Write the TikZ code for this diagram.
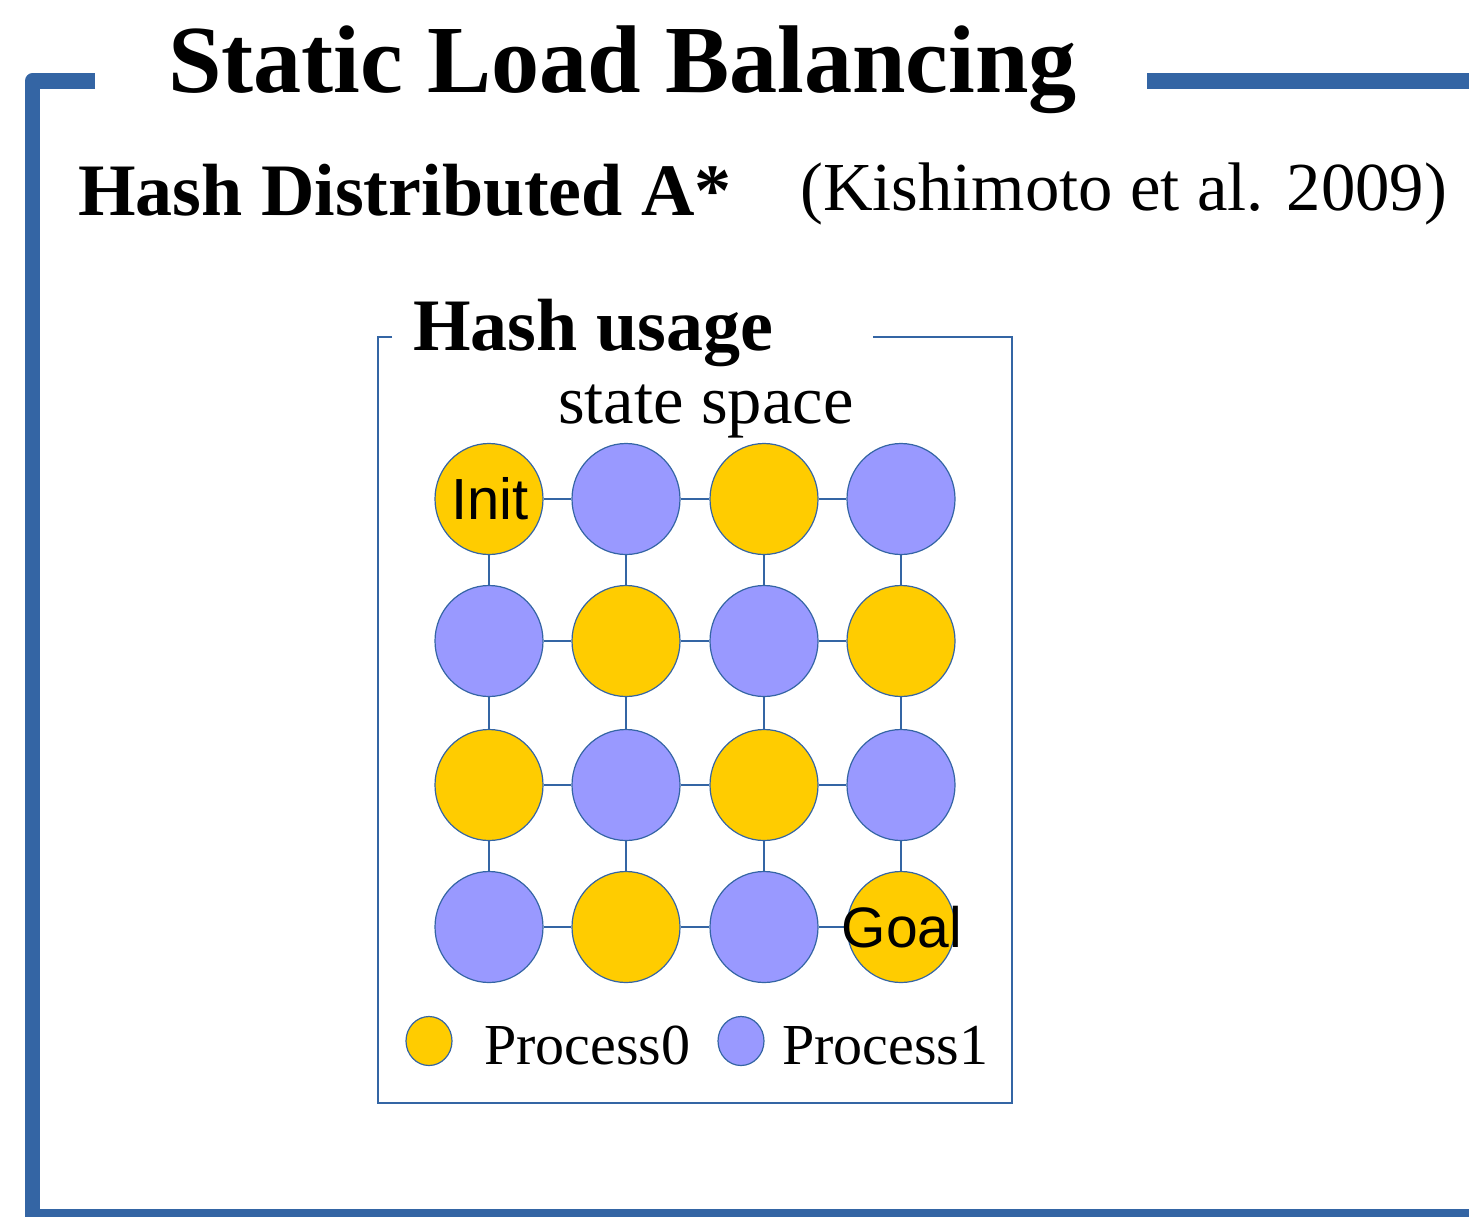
\documentclass[tikz,border=0pt]{standalone}
\usepackage{fontspec}
\setmainfont{Liberation Serif}
\newfontfamily\labelsans{Liberation Sans}
\usetikzlibrary{shapes.geometric}
\definecolor{framebl}{HTML}{3465A4}
\definecolor{procA}{HTML}{FFCC00}
\definecolor{procB}{HTML}{9999FF}
\newcommand{\fs}[1]{\fontsize{#1}{#1}\selectfont}
\tikzset{
  txt/.style={anchor=base west, inner sep=0pt},
  cell/.style={ellipse, draw=framebl, line width=1.2pt, minimum width=108pt, minimum height=111pt, inner sep=0pt},
  pa/.style={cell, fill=procA},
  pb/.style={cell, fill=procB},
  link/.style={draw=framebl, line width=1.3pt},
  key/.style={ellipse, draw=framebl, line width=1.2pt, minimum width=46pt, minimum height=49pt, inner sep=0pt},
}
\begin{document}
\begin{tikzpicture}[x=1pt, y=-1pt]
\useasboundingbox (0,0) rectangle (1469,1216);
\fill[white] (0,0) rectangle (1469,1216);

% outer slide frame
\draw[framebl, line width=15.5pt, line join=round] (95,81) -- (32.5,81) -- (32.5,1216.5) -- (1469,1216.5);
\draw[framebl, line width=15.5pt] (1147,81) -- (1469,81);

% headings
\node[txt] (title) at (168,92) {\fs{96.2}\bfseries Static Load Balancing};
\node[txt] (sub) at (78,215) {\fs{74}\bfseries Hash Distributed A*};
\node[txt] (cite) at (800,210) {\fs{68.7}(Kishimoto et al. 2009)};

% inner box
\draw[framebl, line width=1.5pt] (392,337) -- (378,337) -- (378,1103) -- (1012,1103) -- (1012,337) -- (873,337);
\node[txt] (hu) at (413,350) {\fs{74}\bfseries Hash usage};
\node[txt] (ss) at (558,423) {\fs{68.6}state space};

% state grid
\node[pa] (n11) at (489,499) {};
\node[pb] (n12) at (626,499) {};
\node[pa] (n13) at (764,499) {};
\node[pb] (n14) at (901,499) {};
\node[pb] (n21) at (489,641) {};
\node[pa] (n22) at (626,641) {};
\node[pb] (n23) at (764,641) {};
\node[pa] (n24) at (901,641) {};
\node[pa] (n31) at (489,785) {};
\node[pb] (n32) at (626,785) {};
\node[pa] (n33) at (764,785) {};
\node[pb] (n34) at (901,785) {};
\node[pb] (n41) at (489,927) {};
\node[pa] (n42) at (626,927) {};
\node[pb] (n43) at (764,927) {};
\node[pa] (n44) at (901,927) {};

% grid edges
\foreach \r in {1,2,3,4}{
  \draw[link] (n\r1) -- (n\r2);
  \draw[link] (n\r2) -- (n\r3);
  \draw[link] (n\r3) -- (n\r4);
}
\foreach \c in {1,2,3,4}{
  \draw[link] (n1\c) -- (n2\c);
  \draw[link] (n2\c) -- (n3\c);
  \draw[link] (n3\c) -- (n4\c);
}

\node[inner sep=0pt] (init) at (490,499) {\labelsans\fs{58}Init};
\node[inner sep=0pt] (goal) at (902,927.5) {\labelsans\fs{57}Goal};

% legend
\node[key, fill=procA] (k0) at (429,1041) {};
\node[txt] (p0) at (484,1064) {\fs{58}Process0};
\node[key, fill=procB] (k1) at (741,1041) {};
\node[txt] (p1) at (782,1064) {\fs{58}Process1};
\end{tikzpicture}
\end{document}
